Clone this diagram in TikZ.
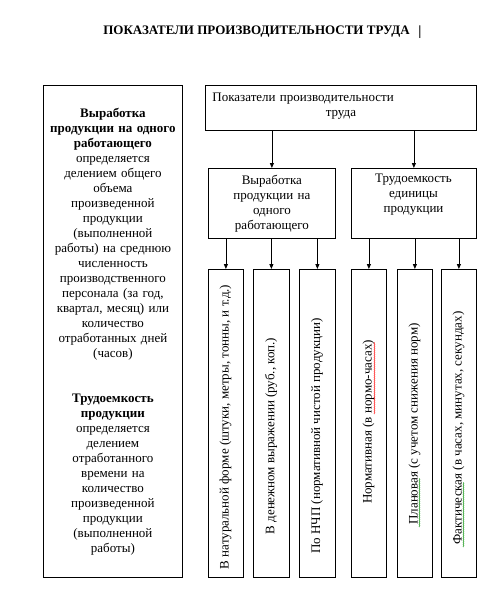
\documentclass[tikz,border=0pt]{standalone}
\usepackage{fontspec}
\setmainfont{Liberation Serif}
\usetikzlibrary{arrows.meta,decorations.pathmorphing}
\begin{document}
\begin{tikzpicture}[x=1pt,y=-1pt,
  box/.style={draw, line width=0.8pt, inner sep=0pt, anchor=north west},
  txt/.style={font=\fontsize{13}{15}\selectfont, align=center, inner sep=0pt},
  rtxt/.style={font=\fontsize{13}{15}\selectfont, inner sep=0pt, rotate=90},
  arr/.style={-{Triangle[length=5pt,width=4pt]}, line width=0.8pt},
  wavy/.style={decorate, decoration={snake, amplitude=0.5pt, segment length=2pt}, line width=0.45pt}]
\useasboundingbox (0,0) rectangle (503,595);
% title
\node[font=\fontsize{13}{15}\selectfont\bfseries, inner sep=0pt] (title) at (256.5,32) {ПОКАЗАТЕЛИ ПРОИЗВОДИТЕЛЬНОСТИ ТРУДА};
\node[font=\fontsize{14}{15}\selectfont\bfseries, inner sep=0pt] (cursor) at (420,32) {|};
% left box
\node[box, minimum width=139pt, minimum height=492pt] (left) at (43,85) {};
\node[txt, text width=135pt] (lefttext) at (left.center) {%
\textbf{Выработка}\\
\textbf{продукции на одного}\\
\textbf{работающего}\\
определяется\\
делением общего\\
объема\\
произведенной\\
продукции\\
(выполненной\\
работы) на среднюю\\
численность\\
производственного\\
персонала (за год,\\
квартал, месяц) или\\
количество\\
отработанных дней\\
(часов)\\[30pt]
\textbf{Трудоемкость}\\
\textbf{продукции}\\
определяется\\
делением\\
отработанного\\
времени на\\
количество\\
произведенной\\
продукции\\
(выполненной\\
работы)};
% top box
\node[box, minimum width=271pt, minimum height=45pt] (top) at (205,85) {};
\node[txt, text width=257pt] (toptext) at ([yshift=2pt]top.center) {\makebox[\linewidth][l]{Показатели производительности}\\труда};
% middle boxes
\node[box, minimum width=127pt, minimum height=70pt] (m1) at (208,168) {};
\node[txt, text width=120pt] (m1text) at (m1.center) {Выработка\\продукции на\\одного\\работающего};
\node[box, minimum width=125pt, minimum height=70pt] (m2) at (351,168) {};
\node[txt, text width=120pt] (m2text) at (413.5,195) {Трудоемкость\\единицы\\продукции};
% bottom boxes
\node[box, minimum width=35pt, minimum height=308pt] (b1) at (208,269) {};
\node[box, minimum width=36pt, minimum height=308pt] (b2) at (253,269) {};
\node[box, minimum width=36pt, minimum height=308pt] (b3) at (299,269) {};
\node[box, minimum width=35pt, minimum height=308pt] (b4) at (351,269) {};
\node[box, minimum width=35pt, minimum height=308pt] (b5) at (397,269) {};
\node[box, minimum width=35pt, minimum height=308pt] (b6) at (441,269) {};
\node[rtxt] (t1) at (225.5,427) {В натуральной форме (штуки, метры, тонны, и т.д.)};
\node[rtxt] (t2) at (271,436) {В денежном выражении (руб., коп.)};
\node[rtxt] (t3) at (317,436) {По НЧП (нормативной чистой продукции)};
\node[rtxt] (t4) at (368.5,422) {Нормативная (в нормо-часах)};
\node[rtxt] (t5) at (414.5,424) {Плановая (с учетом снижения норм)};
\node[rtxt] (t6) at (458.5,428) {Фактическая (в часах, минутах, секундах)};
% spell-check underlines
\draw[wavy, red] (374.5,414) -- (374.5,342);
\draw[wavy, green!55!black] (419.5,527) -- (419.5,478);
\draw[wavy, green!55!black] (463.5,547) -- (463.5,482);
% arrows
\draw[arr] (top.south -| m1.north) -- (m1.north);
\draw[arr] (top.south -| m2.north) -- (m2.north);
\draw[arr] (m1.south -| b1.north) -- (b1.north);
\draw[arr] (m1.south -| b2.north) -- (b2.north);
\draw[arr] (m1.south -| b3.north) -- (b3.north);
\draw[arr] (m2.south -| b4.north) -- (b4.north);
\draw[arr] (m2.south -| b5.north) -- (b5.north);
\draw[arr] (m2.south -| b6.north) -- (b6.north);
\end{tikzpicture}
\end{document}
